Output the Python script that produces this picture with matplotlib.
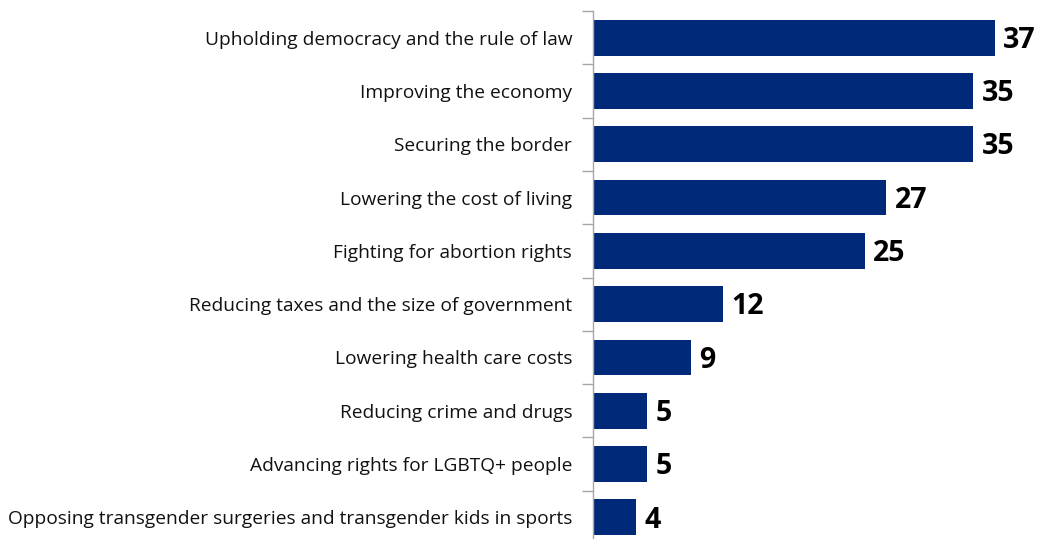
import matplotlib
matplotlib.use("Agg")
import matplotlib.pyplot as plt
import numpy as np

# issues, top to bottom
issues = [
    "Upholding democracy and the rule of law",
    "Improving the economy",
    "Securing the border",
    "Lowering the cost of living",
    "Fighting for abortion rights",
    "Reducing taxes and the size of government",
    "Lowering health care costs",
    "Reducing crime and drugs",
    "Advancing rights for LGBTQ+ people",
    "Opposing transgender surgeries and transgender kids in sports",
]
values = [37, 35, 35, 27, 25, 12, 9, 5, 5, 4]

bar_color = "#00297A"
W, H = 1039, 539

fig = plt.figure(figsize=(W / 100, H / 100), dpi=100)
plt.rcParams["font.family"] = ["Open Sans", "DejaVu Sans"]

# axes placed in pixel terms; bottom runs a bit off the figure like the original
left = 593 / W
width = 434.6 / W
top = 1 - 11 / H
step = 53.3
bottom = 1 - (11 + step * len(issues)) / H
ax = fig.add_axes([left, bottom, width, top - bottom])

y = np.arange(len(issues))
ax.barh(y, values, height=0.67, color=bar_color)
ax.set_xlim(0, 40)
ax.set_ylim(len(issues) - 0.5, -0.5)

for yi, v in zip(y, values):
    ax.text(v + 0.75, yi + 0.05, str(v), va="center", ha="left",
            fontsize=20.5, fontweight="bold", color="black")

# labels on minor ticks, boundary marks on major ticks
ax.set_yticks(np.arange(-0.5, len(issues) + 0.5, 1))
ax.set_yticklabels([])
ax.set_yticks(y, minor=True)
ax.set_yticklabels(issues, minor=True, fontsize=13.8, color="#111111")
ax.tick_params(axis="y", which="minor", length=0, pad=15)
ax.tick_params(axis="y", which="major", length=8, color="#a6a6a6", width=1)

ax.set_xticks([])
for s in ["top", "right", "bottom"]:
    ax.spines[s].set_visible(False)
ax.spines["left"].set_color("#a6a6a6")
ax.spines["left"].set_linewidth(1)

fig.savefig("out.png", dpi=100)
